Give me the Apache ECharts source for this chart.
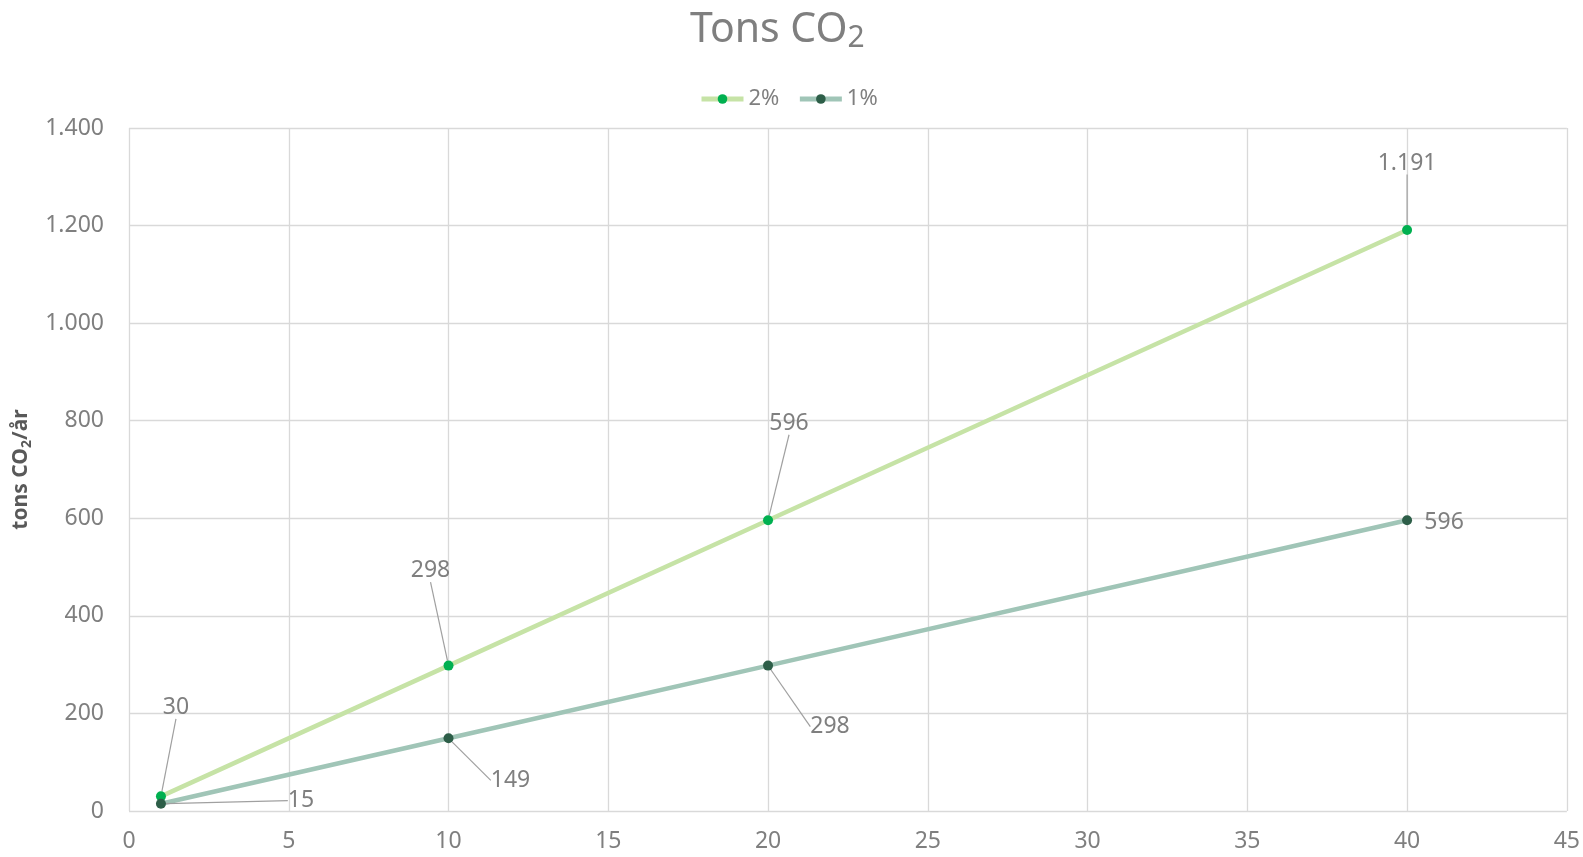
<!DOCTYPE html>
<html>
<head>
<meta charset="utf-8">
<script src="https://cdn.jsdelivr.net/npm/echarts@6/dist/echarts.min.js"></script>
<style>
html,body{margin:0;padding:0;background:#fff;}
#chart{width:1583px;height:857px;}
</style>
</head>
<body>
<div id="chart"></div>
<script>
// ---- data ----
const years = [1, 10, 20, 40];
const seriesNames = ['2%', '1%'];
const values2 = [30, 298, 596, 1191];
const values1 = [15, 149, 298, 596];
const xTicks = [0, 5, 10, 15, 20, 25, 30, 35, 40, 45];
const yTicks = [0, 200, 400, 600, 800, 1000, 1200, 1400];

// label offsets and leader-line visibility (style only)
const labelOffsets = [
  [[15, -89], [-18, -95], [21, -97], [0, -67]],
  [[140, -3], [62, 42], [62, 61], [37, 2]]
];
const leaderShown = [
  [true, true, true, true],
  [true, true, true, false]
];

const fmt = v => String(v).replace(/\B(?=(\d{3})+(?!\d))/g, '.');
const FONT = '"Noto Sans", "Open Sans", sans-serif';
const GRAY = '#7f7f7f';

const chart = echarts.init(document.getElementById('chart'));
const mk = (vals, s) => years.map((x, i) => ({ value: [x, vals[i]], labelLine: { show: leaderShown[s][i] } }));

chart.setOption({
  animation: false,
  backgroundColor: '#ffffff',
  textStyle: { fontFamily: FONT },
  title: {
    text: '{a|Tons CO}{b|2}',
    left: 690,
    top: 7,
    padding: 0,
    textStyle: {
      fontWeight: 'normal',
      rich: {
        a: { fontSize: 41, fontWeight: 'normal', color: GRAY, fontFamily: FONT, lineHeight: 46 },
        b: { fontSize: 30, fontWeight: 'normal', color: GRAY, fontFamily: FONT, lineHeight: 10, verticalAlign: 'bottom' }
      }
    }
  },
  legend: {
    top: 83,
    left: 694,
    itemWidth: 42,
    itemHeight: 12,
    itemGap: 18,
    lineStyle: { width: 5 },
    textStyle: { fontSize: 22, color: GRAY, fontFamily: FONT },
    data: seriesNames
  },
  grid: { left: 129, right: 15, top: 128, bottom: 46 },
  xAxis: {
    type: 'value',
    min: xTicks[0],
    max: xTicks[xTicks.length - 1],
    interval: 5,
    axisLine: { show: false },
    axisTick: { show: false },
    axisLabel: { fontSize: 23, color: GRAY, margin: 19, fontFamily: FONT },
    splitLine: { show: true, lineStyle: { color: '#d9d9d9', width: 1.3 } }
  },
  yAxis: {
    type: 'value',
    min: yTicks[0],
    max: yTicks[yTicks.length - 1],
    interval: 200,
    name: '{a|tons CO}{b|2}{a|/år}',
    nameLocation: 'middle',
    nameGap: 95,
    nameTextStyle: {
      rich: {
        a: { fontSize: 21, fontWeight: 'bold', color: '#595959', fontFamily: FONT, lineHeight: 26 },
        b: { fontSize: 14, fontWeight: 'bold', color: '#595959', fontFamily: FONT, lineHeight: 10, verticalAlign: 'bottom' }
      }
    },
    axisLine: { show: false },
    axisTick: { show: false },
    axisLabel: { fontSize: 23, color: GRAY, margin: 25, fontFamily: FONT, formatter: fmt },
    splitLine: { show: true, lineStyle: { color: '#d9d9d9', width: 1.3 } }
  },
  series: [
    {
      name: seriesNames[0],
      type: 'line',
      data: mk(values2, 0),
      symbol: 'circle',
      symbolSize: 10,
      lineStyle: { color: '#c6e3a6', width: 4.5 },
      itemStyle: { color: '#00b050' },
      label: {
        show: true, position: 'inside', fontSize: 23, color: GRAY, fontFamily: FONT,
        formatter: p => fmt(p.value[1])
      },
      labelLine: { show: true, lineStyle: { color: '#a0a0a0', width: 1.2 } },
      labelLayout: p => { const o = labelOffsets[0][p.dataIndex]; return { dx: o[0], dy: o[1] }; },
      z: 2
    },
    {
      name: seriesNames[1],
      type: 'line',
      data: mk(values1, 1),
      symbol: 'circle',
      symbolSize: 10,
      lineStyle: { color: '#a0c5b7', width: 4.5 },
      itemStyle: { color: '#2d5e48' },
      label: {
        show: true, position: 'inside', fontSize: 23, color: GRAY, fontFamily: FONT,
        formatter: p => fmt(p.value[1])
      },
      labelLine: { show: true, lineStyle: { color: '#a0a0a0', width: 1.2 } },
      labelLayout: p => { const o = labelOffsets[1][p.dataIndex]; return { dx: o[0], dy: o[1] }; },
      z: 3
    }
  ]
});
</script>
</body>
</html>
